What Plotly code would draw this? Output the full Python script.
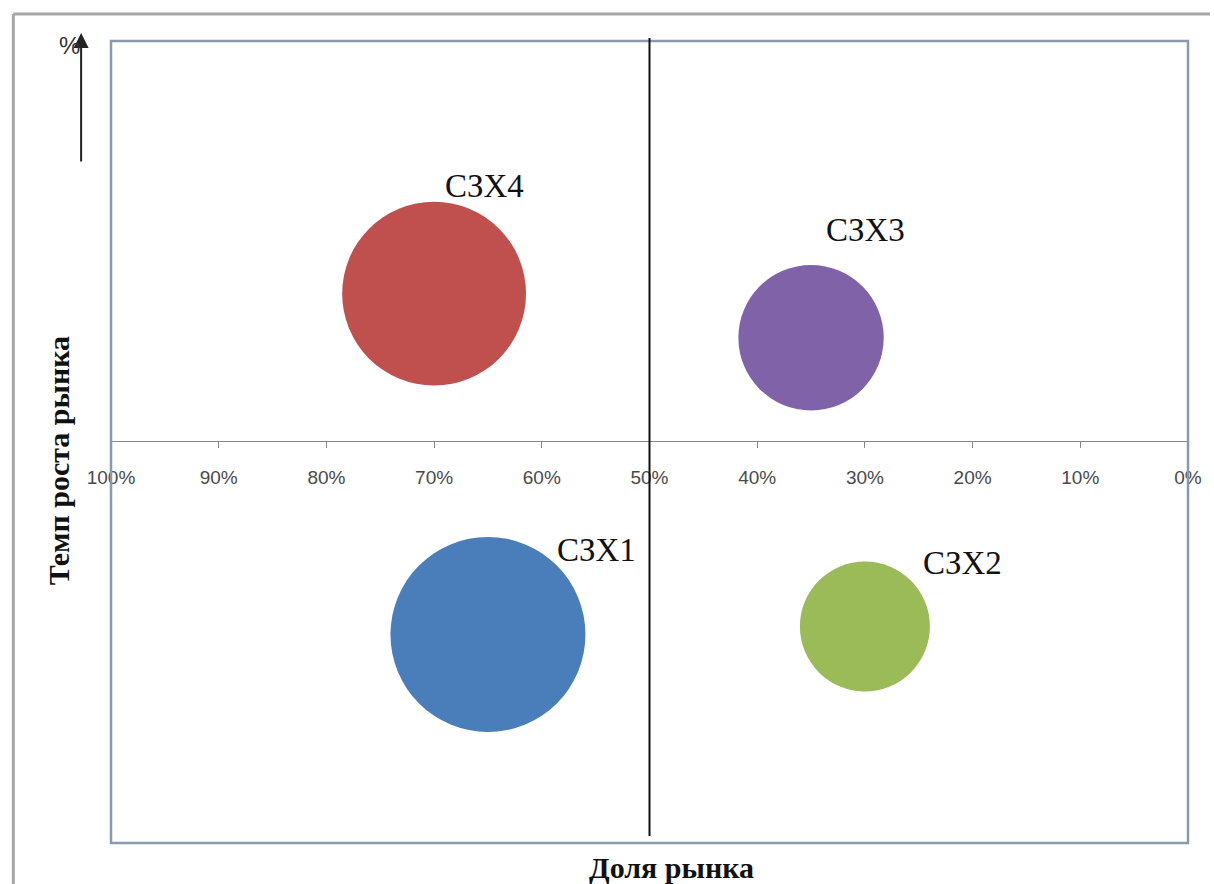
import plotly.graph_objects as go

# Market share (%) vs. market growth for four strategic business zones
zones = ["СЗХ1", "СЗХ2", "СЗХ3", "СЗХ4"]
market_share = [65, 30, 35, 70]
market_growth = [-4.8, -4.6, 2.6, 3.7]
sales_volume = [45, 20, 25, 40]

tick_values = [0, 10, 20, 30, 40, 50, 60, 70, 80, 90, 100]
tick_labels = [f"{v}%" for v in tick_values]

colors = ["#4A7EBB", "#9BBB59", "#7F62A8", "#C0504D"]
label_shift = [(109, 84), (98, 63), (54, 108), (50, 108)]

W, H = 1214, 884
L, R, T, B = 111, 22, 41, 41

fig = go.Figure()
fig.add_trace(go.Scatter(
    x=market_share, y=market_growth, mode="markers",
    marker=dict(size=sales_volume, sizemode="area", sizeref=40 / 16900,
                color=colors, opacity=1, line=dict(width=0)),
    hoverinfo="text", text=zones, showlegend=False,
))

annotations = []
for name, xv, yv, (dx, dy) in zip(zones, market_share, market_growth, label_shift):
    annotations.append(dict(
        x=xv, y=yv, xref="x", yref="y", text=name, showarrow=False,
        xshift=dx, yshift=dy,
        font=dict(family="Liberation Serif, Times New Roman, serif", size=33, color="#111111"),
    ))

def px(xp):
    return (xp - L) / (W - L - R)

def py(yp):
    return (H - B - yp) / (H - T - B)

annotations += [
    dict(x=px(674), y=py(868), xref="paper", yref="paper", text="<b>Доля рынка</b>",
         showarrow=False, xanchor="center", yanchor="middle",
         font=dict(family="Liberation Serif, Times New Roman, serif", size=30, color="#111111")),
    dict(x=px(58), y=py(461), xref="paper", yref="paper", text="<b>Темп роста рынка</b>",
         showarrow=False, xanchor="center", yanchor="middle", textangle=-90,
         font=dict(family="Liberation Serif, Times New Roman, serif", size=30, color="#111111")),
    dict(x=px(81), y=py(33), xref="paper", yref="paper", text="", showarrow=True,
         ax=0, ay=130, arrowhead=2, arrowsize=1.5, arrowwidth=2, arrowcolor="#222222"),
    dict(x=px(69), y=py(45), xref="paper", yref="paper", text="%", showarrow=False,
         xanchor="center", yanchor="middle",
         font=dict(family="Liberation Sans, Arial, sans-serif", size=24, color="#333333")),
]

shapes = [
    # outer frame
    dict(type="line", xref="paper", yref="paper", x0=px(13), x1=px(W), y0=py(14), y1=py(14),
         line=dict(color="#a6a6a6", width=3)),
    dict(type="line", xref="paper", yref="paper", x0=px(13), x1=px(13), y0=py(14), y1=py(H),
         line=dict(color="#a6a6a6", width=3)),
    # plot area border
    dict(type="rect", xref="paper", yref="paper", x0=0, x1=1, y0=0, y1=1,
         line=dict(color="#8a9aac", width=2.5)),
    # quadrant divider at 50%
    dict(type="line", xref="x", yref="paper", x0=50, x1=50, y0=py(836), y1=py(38),
         line=dict(color="#111111", width=2)),
]

fig.update_layout(
    width=W, height=H,
    margin=dict(l=L, r=R, t=T, b=B),
    paper_bgcolor="white", plot_bgcolor="white",
    xaxis=dict(range=[100, 0], tickvals=tick_values, ticktext=tick_labels,
               showgrid=False, zeroline=False, showline=True, linecolor="#868686", linewidth=1,
               ticks="outside", ticklen=6, tickcolor="#868686", tickwidth=1,
               anchor="free", position=(H - B - 441) / (H - T - B),
               ticklabelstandoff=13,
               tickfont=dict(family="Liberation Sans, Arial, sans-serif", size=19, color="#4a4a4a")),
    yaxis=dict(range=[-10, 10], showgrid=False, zeroline=False, showline=False,
               showticklabels=False, ticks=""),
    annotations=annotations, shapes=shapes,
)

fig.write_html("out.html")
